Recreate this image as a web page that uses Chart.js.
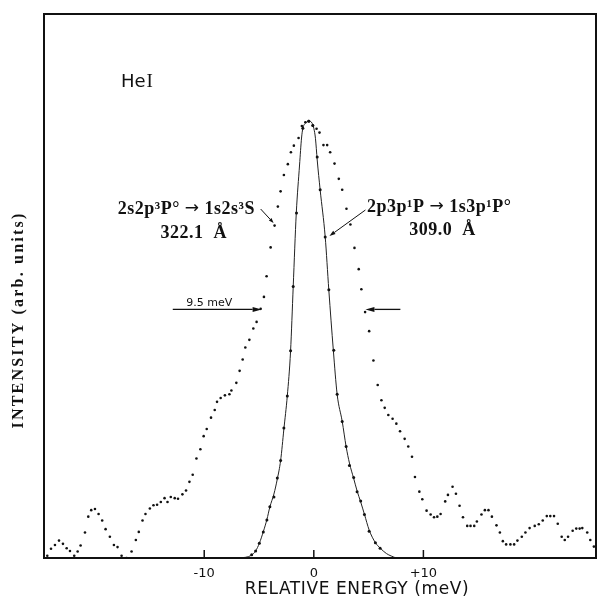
<!DOCTYPE html>
<html><head><meta charset="utf-8">
<script src="https://cdn.jsdelivr.net/npm/chart.js@4/dist/chart.umd.min.js"></script>
<style>html,body{margin:0;padding:0;background:#fff;}canvas{display:block;}</style>
</head><body>
<canvas id="c" width="600" height="599"></canvas>
<script>
// Broad (dotted) profile, 2s2p3P° -> 1s2s3S
const broadX = [-24.32,-23.98,-23.62,-23.25,-22.89,-22.55,-22.25,-21.86,-21.55,-21.28,
-20.88,-20.58,-20.31,-19.97,-19.64,-19.31,-19.00,-18.61,-18.24,-17.91,
-17.54,-17.09,-16.63,-16.24,-15.97,-15.63,-15.36,-14.96,-14.63,-14.30,
-13.96,-13.62,-13.35,-13.05,-12.69,-12.39,-11.99,-11.66,-11.35,-11.05,
-10.71,-10.35,-10.05,-9.77,-9.38,-9.04,-8.83,-8.50,-8.11,-7.70,
-7.52,-7.07,-6.77,-6.49,-6.25,-5.88,-5.52,-5.22,-4.85,-4.55,
-4.31,-3.94,-3.58,-3.28,-3.03,-2.73,-2.37,-2.09,-1.82,-1.39,
-1.09,-0.77,-0.46,-0.09,0.25,0.52,0.88,1.22,1.49,1.89,
2.28,2.59,2.98,3.34,3.71,4.10,4.34,4.68,5.05,5.44,
5.83,6.17,6.47,6.80,7.19,7.53,7.87,8.29,8.62,8.96,
9.23,9.63,9.90,10.29,10.66,10.97,11.27,11.57,11.99,12.24,
12.66,12.97,13.30,13.61,14.00,14.30,14.64,14.88,15.30,15.61,
15.94,16.25,16.67,16.98,17.25,17.55,17.94,18.28,18.58,18.98,
19.31,19.69,20.16,20.53,20.89,21.26,21.58,21.92,22.26,22.62,
22.90,23.20,23.62,23.95,24.26,24.50,24.95,25.23,25.56];
const broadY = [0.4,1.7,2.4,3.2,2.6,1.8,1.3,0.4,1.2,2.3,
4.7,7.6,8.8,9.0,8.1,6.9,5.3,3.9,2.4,2.0,
0.4,0.0,1.2,3.3,4.8,6.9,8.1,9.1,9.7,9.8,
10.3,11.0,10.3,11.2,11.0,10.9,11.7,12.4,14.0,15.3,
18.3,20.0,22.4,23.7,25.8,27.2,28.7,29.4,29.9,30.1,
30.8,32.2,34.4,36.5,38.7,40.1,42.2,43.4,45.8,48.0,
51.8,57.1,61.1,64.6,67.4,70.4,72.4,74.6,75.8,77.2,
79.4,80.1,80.3,79.5,78.9,78.2,75.9,75.9,74.6,72.5,
69.7,67.7,64.2,61.3,57.0,53.1,49.4,45.2,41.7,36.3,
31.8,29.0,27.6,26.3,25.6,24.7,23.3,21.9,20.5,18.6,
14.9,12.2,10.8,8.7,8.0,7.5,7.6,8.1,10.4,11.6,
13.1,11.8,9.6,7.5,5.9,5.9,5.9,6.7,8.0,8.8,
8.8,7.6,6.0,4.7,3.1,2.5,2.5,2.5,3.2,3.9,
4.7,5.5,5.9,6.2,6.9,7.7,7.7,7.7,6.3,3.9,
3.3,3.9,5.0,5.4,5.4,5.5,4.7,3.3,2.1];

// Narrow profile, 2p3p1P -> 1s3p1P°: measured points
const narrowX = [-5.67,-5.31,-4.97,-4.61,-4.28,-4.01,-3.64,-3.33,-3.03,-2.73,-2.42,-2.12,-1.88,-1.58,-1.00,-0.46,-0.09,
0.31,0.58,1.04,1.37,1.82,2.13,2.59,2.95,3.25,3.64,3.95,4.28,4.62,5.05,5.62,6.05];
const narrowY = [0.6,1.3,2.7,4.8,7.0,9.4,11.2,14.7,17.9,23.9,29.8,38.1,49.9,63.4,79.0,80.3,79.5,
73.7,67.7,59.0,49.3,38.2,30.1,25.1,20.5,17.0,14.8,12.2,10.5,8.0,4.9,2.8,1.8];

// Narrow profile: fitted curve
const fitX = [-6.95,-6.22,-5.67,-5.31,-4.97,-4.61,-4.28,-4.01,-3.64,-3.33,-3.03,-2.73,-2.42,-2.12,-1.88,-1.60,-1.30,-1.12,-1.00,-0.76,-0.46,
-0.15,0.00,0.15,0.31,0.58,1.04,1.37,1.78,2.13,2.59,2.95,3.25,3.64,3.95,4.28,4.62,5.05,5.62,6.05,6.62,7.50];
const fitY = [0,0.13,0.55,1.29,2.70,4.83,7.08,9.38,11.76,14.52,17.89,23.71,29.78,38.05,49.87,63.36,72.24,77.2,78.99,79.91,80.33,
79.91,78.99,77.15,73.16,67.65,59.01,49.26,38.24,30.09,25.13,20.46,17.46,14.61,12.32,10.29,8.03,5.15,2.81,1.84,0.83,0];

const xTicks = [-10, 0, 10];
const xTickLabels = ['-10', '0', '+10'];
const xRange = [-24.62, 25.75];
const yRange = [0, 100];

const xTitle = 'RELATIVE ENERGY (meV)';
const yTitle = 'INTENSITY (arb. units)';
const elementLabel = ['He', 'I'];
const leftLine1 = ['2s2p\u00B3P\u00B0 ', '\u2192', ' 1s2s\u00B3S'];
const leftLine2 = '322.1  \u00C5';
const rightLine1 = ['2p3p\u00B9P ', '\u2192', ' 1s3p\u00B9P\u00B0'];
const rightLine2 = '309.0  \u00C5';
const fwhmLabel = '9.5 meV';

const ink = '#111';

const toPts = (xs, ys) => xs.map((v, i) => ({x: v, y: ys[i]}));

function arrow(ctx, x1, y1, x2, y2, len, half) {
  const ang = Math.atan2(y2 - y1, x2 - x1);
  const bx = x2 - len * Math.cos(ang), by = y2 - len * Math.sin(ang);
  ctx.beginPath(); ctx.moveTo(x1, y1); ctx.lineTo(bx, by); ctx.stroke();
  ctx.beginPath();
  ctx.moveTo(x2, y2);
  ctx.lineTo(bx + half * Math.sin(ang), by - half * Math.cos(ang));
  ctx.lineTo(bx - half * Math.sin(ang), by + half * Math.cos(ang));
  ctx.closePath(); ctx.fill();
}

function transition(ctx, parts, x0, y0) {
  const serif = 'bold 18px "Liberation Serif"';
  const arr = '17px "DejaVu Sans"';
  let xx = x0;
  parts.forEach((p, i) => {
    ctx.font = i === 1 ? arr : serif;
    ctx.fillText(p, xx, i === 1 ? y0 - 1 : y0);
    xx += ctx.measureText(p).width;
  });
}

const annoPlugin = {
  id: 'anno',
  afterDraw(chart) {
    const {ctx, chartArea: a, scales: {x, y}} = chart;
    const X = v => x.getPixelForValue(v), Y = v => y.getPixelForValue(v);
    ctx.save();
    ctx.strokeStyle = ink; ctx.fillStyle = ink;
    // frame
    ctx.lineWidth = 2;
    ctx.strokeRect(a.left, a.top, a.right - a.left, a.bottom - a.top);
    // inward tick marks
    ctx.lineWidth = 1.5;
    xTicks.forEach(v => { const p = X(v); ctx.beginPath(); ctx.moveTo(p, a.bottom); ctx.lineTo(p, a.bottom - 8); ctx.stroke(); });

    // x title
    ctx.font = '17px "DejaVu Sans"';
    ctx.letterSpacing = '0.6px';
    ctx.textAlign = 'center'; ctx.textBaseline = 'middle';
    ctx.fillText(xTitle, 357, 590);

    // y title
    ctx.save();
    ctx.translate(19, 320); ctx.rotate(-Math.PI / 2);
    ctx.font = 'bold 16px "Liberation Serif"';
    ctx.letterSpacing = '2.2px';
    ctx.fillText(yTitle, 0, 0);
    ctx.restore();

    // He I
    ctx.textAlign = 'left'; ctx.textBaseline = 'alphabetic';
    ctx.letterSpacing = '0px';
    ctx.font = '18px "DejaVu Sans"';
    const hx = X(-17.6), hy = Y(86.6);
    ctx.fillText(elementLabel[0], hx, hy);
    const hw = ctx.measureText(elementLabel[0]).width;
    ctx.font = '19px "Liberation Serif"';
    ctx.fillText(elementLabel[1], hx + hw + 1, hy);

    // transition labels
    ctx.letterSpacing = '0.5px';
    transition(ctx, leftLine1, X(-17.89), Y(63.24));
    transition(ctx, rightLine1, X(4.86), Y(63.66));
    ctx.font = 'bold 18px "Liberation Serif"';
    ctx.fillText(leftLine2, X(-13.99), Y(58.88));
    ctx.fillText(rightLine2, X(8.72), Y(59.38));

    // pointers
    ctx.lineWidth = 1;
    arrow(ctx, X(-4.85), Y(64.15), X(-3.67), Y(61.58), 5, 1.8);
    arrow(ctx, X(4.71), Y(63.97), X(1.43), Y(59.19), 6, 2);

    // FWHM arrows
    ctx.lineWidth = 1.3;
    arrow(ctx, X(-12.87), Y(45.7), X(-4.76), Y(45.7), 9, 2.5);
    arrow(ctx, X(7.90), Y(45.7), X(4.71), Y(45.7), 9, 2.5);
    ctx.font = '11px "DejaVu Sans"';
    ctx.letterSpacing = '0px';
    ctx.textAlign = 'center';
    ctx.fillText(fwhmLabel, X(-9.54), Y(46.3));
    ctx.restore();
  }
};

new Chart(document.getElementById('c'), {
  type: 'scatter',
  data: {
    datasets: [
      {label: 'fit', data: toPts(fitX, fitY), showLine: true, borderColor: '#222', borderWidth: 1,
       pointRadius: 0, cubicInterpolationMode: 'monotone', order: 3},
      {label: 'narrow', data: toPts(narrowX, narrowY), showLine: false, pointRadius: 1.5,
       backgroundColor: ink, borderWidth: 0, order: 2},
      {label: 'broad', data: toPts(broadX, broadY), showLine: false, pointRadius: 1.3,
       backgroundColor: ink, borderWidth: 0, order: 1}
    ]
  },
  options: {
    responsive: false, animation: false, devicePixelRatio: 1,
    layout: {padding: {top: 14, right: 3, left: 0, bottom: 0}},
    plugins: {legend: {display: false}, tooltip: {enabled: false}},
    scales: {
      x: {
        type: 'linear', min: xRange[0], max: xRange[1],
        grid: {display: false, drawTicks: false}, border: {display: false},
        afterBuildTicks: s => { s.ticks = xTicks.map(v => ({value: v})); },
        afterFit: s => { s.height = 41; },
        ticks: {
          padding: 8, color: ink, font: {family: 'DejaVu Sans', size: 13},
          maxRotation: 0, autoSkip: false,
          callback: v => xTickLabels[xTicks.indexOf(v)]
        }
      },
      y: {
        type: 'linear', min: yRange[0], max: yRange[1],
        grid: {display: false, drawTicks: false}, border: {display: false},
        ticks: {display: false},
        afterFit: s => { s.width = 44; }
      }
    }
  },
  plugins: [annoPlugin]
});
</script>
</body></html>
